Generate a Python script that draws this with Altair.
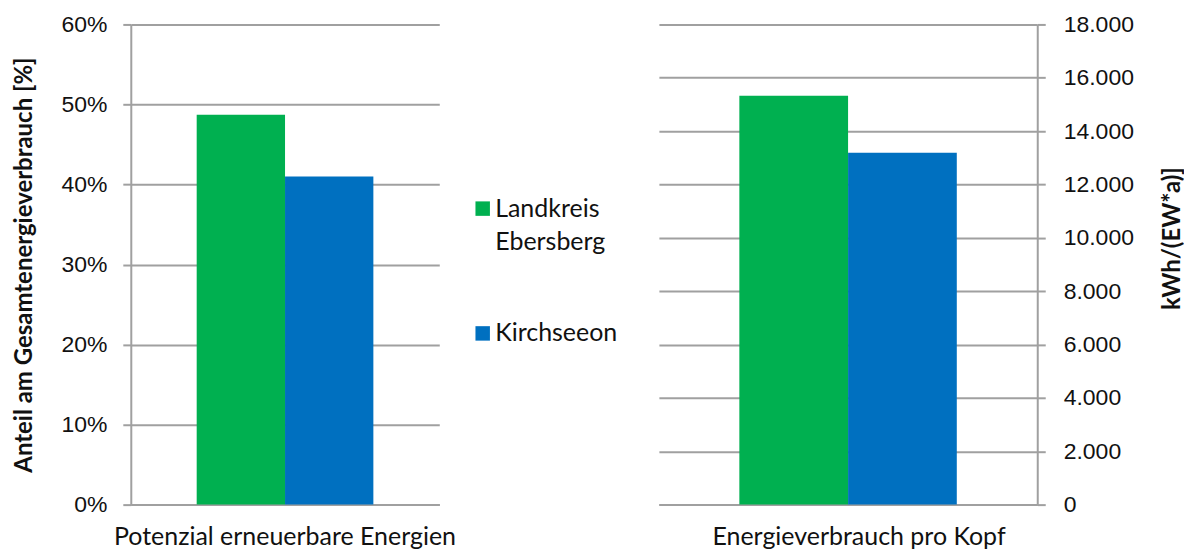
import altair as alt
import pandas as pd

series = ["Landkreis Ebersberg", "Kirchseeon"]
colors = ["#00B050", "#0070C0"]

left_category = ["Potenzial erneuerbare Energien"]
left_values = [0.487, 0.410]
left_ticks = [0, 0.1, 0.2, 0.3, 0.4, 0.5, 0.6]

right_category = ["Energieverbrauch pro Kopf"]
right_values = [15330, 13190]
right_ticks = [0, 2000, 4000, 6000, 8000, 10000, 12000, 14000, 16000, 18000]

left_df = pd.DataFrame({"cat": left_category * 2, "series": series, "value": left_values})
right_df = pd.DataFrame({"cat": right_category * 2, "series": series, "value": right_values})

FONT = "Lato"
NUMFONT = "Liberation Sans"
GRID = "#A0A0A0"
TXT = "#111111"

color = alt.Color(
    "series:N",
    scale=alt.Scale(domain=series, range=colors),
    legend=alt.Legend(
        title=None,
        orient="none",
        legendX=340,
        legendY=172,
        symbolType="square",
        symbolSize=210,
        symbolStrokeWidth=0,
        labelFontSize=25,
        labelFont=FONT,
        labelColor=TXT,
        labelExpr="split(datum.label, ' ')",
        labelLimit=200,
        rowPadding=66,
        labelOffset=0,
    ),
)

xoff = alt.XOffset("series:N", scale=alt.Scale(domain=series, paddingInner=0, paddingOuter=0))


def xaxis(offset):
    return alt.Axis(labelAngle=0, ticks=False, labelFontSize=25, labelFont=FONT,
                    labelColor=TXT, labelPadding=20, domainColor=GRID, domainWidth=2,
                    labelLimit=500, labelOffset=offset)


left = alt.Chart(left_df).mark_bar().encode(
    x=alt.X("cat:N", title=None, scale=alt.Scale(paddingInner=0, paddingOuter=0.373), axis=xaxis(0)),
    xOffset=xoff,
    y=alt.Y(
        "value:Q",
        scale=alt.Scale(domain=[0, 0.6], nice=False),
        axis=alt.Axis(values=left_ticks, format=".0%", title="Anteil am Gesamtenergieverbrauch [%]",
                      titleFont=FONT, titleFontSize=24, titleFontWeight="bold", titleColor=TXT,
                      titlePadding=24, labelFont=NUMFONT, labelFontSize=23, labelColor=TXT,
                      labelPadding=16, tickSize=8, tickColor=GRID, tickWidth=2,
                      domainColor=GRID, domainWidth=2, gridColor=GRID, gridWidth=2),
    ),
    color=color,
).properties(width=309, height=481)

right = alt.Chart(right_df).mark_bar().encode(
    x=alt.X("cat:N", title=None, scale=alt.Scale(paddingInner=0, paddingOuter=0.37), axis=xaxis(11)),
    xOffset=xoff,
    y=alt.Y(
        "value:Q",
        scale=alt.Scale(domain=[0, 18000], nice=False),
        axis=alt.Axis(orient="right", values=right_ticks,
                      labelExpr="replace(format(datum.value, ','), ',', '.')",
                      title="kWh/(EW*a)]", titleAngle=270, titleX=147, titleY=214,
                      titleBaseline="bottom", titleAlign="center",
                      titleFont=FONT, titleFontSize=24, titleFontWeight="bold", titleColor=TXT,
                      labelFont=NUMFONT, labelFontSize=23, labelColor=TXT,
                      labelPadding=18, tickSize=8, tickColor=GRID, tickWidth=2,
                      domainColor=GRID, domainWidth=2, gridColor=GRID, gridWidth=2),
    ),
    color=color,
).properties(width=379, height=481)

chart = alt.hconcat(left, right, spacing=203).resolve_scale(
    x="independent", xOffset="independent", y="independent"
).properties(
    padding={"left": 4, "top": 5, "right": 0, "bottom": 0},
).configure(
    background="white",
    style={"guide-label": {"lineHeight": 33}},
).configure_view(stroke=None)

chart.save("out.html", embed_options={"renderer": "svg", "actions": False})
